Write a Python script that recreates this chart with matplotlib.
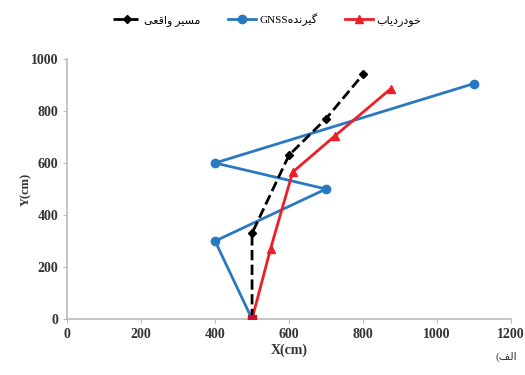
import matplotlib
matplotlib.use('Agg')
import matplotlib.pyplot as plt

# داده‌ها (خوانده شده از تصویر)
real_x = [500, 500, 600, 700, 800]
real_y = [0, 330, 630, 770, 940]
gnss_x = [500, 400, 700, 400, 1100]
gnss_y = [0, 300, 500, 600, 905]
track_x = [500, 550, 610, 725, 875]
track_y = [0, 270, 565, 705, 885]

# متن فارسی به صورت حروف شکل‌یافته و ترتیب دیداری
lbl_real = '\uFBFD\uFECC\uFED7\uFE8D\uFEED \uFEAE\uFBFF\uFEB4\uFEE3'   # مسیر واقعی
lbl_gnss = 'GNSS\uFEE9\uFEAA\uFEE7\uFEAE\uFBFF\uFB94'                  # گیرنده GNSS
lbl_track = '\uFE8F\uFE8E\uFBFE\uFEA9\uFEAD\uFEA9\uFEEE\uFEA7'        # خودردیاب
lbl_part = '(\uFED2\uFEDF\uFE8D'                                      # (الف)

fonts = ['Liberation Serif', 'DejaVu Sans']
plt.rcParams['font.family'] = fonts

fig = plt.figure(figsize=(5.25, 3.75), dpi=100)
ax = fig.add_axes([0.128, 0.149, 0.845, 0.694])

ax.plot(real_x, real_y, color='black', linestyle='--', linewidth=2,
        marker='D', markersize=4.5, label=lbl_real, zorder=3)
ax.plot(gnss_x, gnss_y, color='#2a78c2', linewidth=2,
        marker='o', markersize=6, label=lbl_gnss, zorder=2)
ax.plot(track_x, track_y, color='#ec1f28', linewidth=2,
        marker='^', markersize=6, label=lbl_track, zorder=2)
ax.plot([500], [0], marker='s', color='#d0102a', markersize=6, zorder=4)

ax.set_xlim(0, 1200)
ax.set_ylim(0, 1000)
ax.set_xticks(range(0, 1201, 200))
ax.set_yticks(range(0, 1001, 200))

for s in ['top', 'right']:
    ax.spines[s].set_visible(False)
for s in ['bottom', 'left']:
    ax.spines[s].set_color('#bbbbbb')
    ax.spines[s].set_linewidth(1.2)
ax.tick_params(colors='#bbbbbb', length=3, labelcolor='#333333', labelsize=10)
for t in ax.get_xticklabels() + ax.get_yticklabels():
    t.set_fontweight('bold')

ax.set_xlabel('X(cm)', fontsize=10, fontweight='bold', color='#333333', labelpad=2)
ax.set_ylabel('Y(cm)', fontsize=9, fontweight='bold', color='#333333')
ax.yaxis.set_label_coords(-0.08, 0.5)

ax.legend(loc='center', bbox_to_anchor=(0.45, 1.15), ncol=3, frameon=False,
          fontsize=8, handlelength=2.5, columnspacing=2.5, handletextpad=0.3)

fig.text(0.965, 0.04, lbl_part, fontsize=8, color='#333333', ha='center')

fig.savefig('out.png', dpi=100)
